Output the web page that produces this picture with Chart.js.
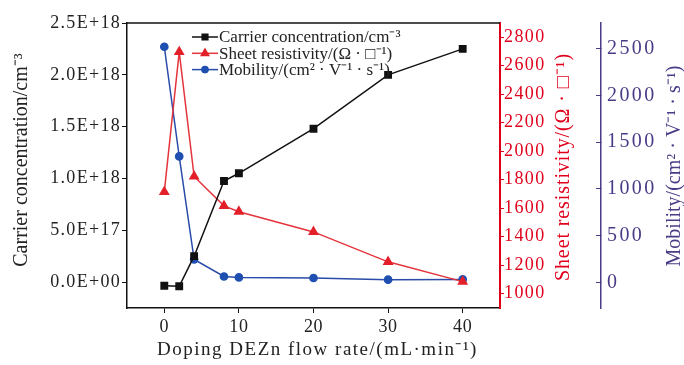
<!DOCTYPE html>
<html>
<head>
<meta charset="utf-8">
<script src="https://cdn.jsdelivr.net/npm/chart.js@4.4.1/dist/chart.umd.min.js"></script>
<style>
  html, body { margin: 0; padding: 0; background: #fff; }
  canvas { display: block; }
</style>
</head>
<body>
<canvas id="chart" width="684" height="365"></canvas>
<script>
// ── data ──
const flowRates   = [0, 2, 4, 8, 10, 20, 30, 40];
const carrierConc = [-3.5e16, -4e16, 2.5e17, 9.75e17, 1.05e18, 1.48e18, 2.0e18, 2.25e18];
const sheetRes    = [1715, 2697, 1823, 1617, 1576, 1434, 1224, 1085];
const mobility    = [2521, 1347, 244, 62, 52, 46, 28, 31];

const xTicks        = [0, 10, 20, 30, 40];
const carrierTicks  = [0, 5e17, 1e18, 1.5e18, 2e18, 2.5e18];
const carrierLabels = ['0.0E+00', '5.0E+17', '1.0E+18', '1.5E+18', '2.0E+18', '2.5E+18'];
const sheetTicks    = [1000, 1200, 1400, 1600, 1800, 2000, 2200, 2400, 2600, 2800];
const mobilityTicks = [0, 500, 1000, 1500, 2000, 2500];

const seriesLabels = ['Carrier concentration/cm⁻³', 'Sheet resistivity/(Ω · □⁻¹)', 'Mobility/(cm² · V⁻¹ · s⁻¹)'];
const xTitle = 'Doping DEZn flow rate/(mL·min⁻¹)';

const SERIF = "'Liberation Serif', 'Times New Roman', serif";
const RED = '#e0001b';
const PURPLE = '#4b3b87';
const BLUE = '#2a4ca8';

// the figure's numbers are set a bit wider than plain Times
const tickSpacing = { x: '0.6px', y: '1.3px', y1: '1.4px', y2: '2.4px' };

function pts(ys) { return flowRates.map((x, i) => ({ x, y: ys[i] })); }
function setTicks(values) { return s => { s.ticks = values.map(v => ({ value: v })); }; }
const plain = v => String(v);

function drawTitle(ctx, text, x, y, color, size, spacing, rotate) {
    ctx.save();
    ctx.translate(x, y);
    if (rotate) ctx.rotate(-Math.PI / 2);
    ctx.font = `${size}px ${SERIF}`;
    ctx.fillStyle = color;
    ctx.textAlign = 'center';
    ctx.textBaseline = 'middle';
    ctx.letterSpacing = spacing;
    ctx.fillText(text, 0, 0);
    ctx.restore();
}

const figureExtras = {
    id: 'figureExtras',
    beforeDraw(chart) {
        Object.values(chart.scales).forEach(s => {
            if (s._spaced) return;
            const orig = s.drawLabels;
            s.drawLabels = function (area) {
                this.ctx.save();
                this.ctx.letterSpacing = tickSpacing[this.id] || '0px';
                orig.call(this, area);
                this.ctx.restore();
            };
            s._spaced = true;
        });
    },
    afterDraw(chart) {
        const { ctx, chartArea: a, scales } = chart;
        // top frame line
        ctx.save();
        ctx.strokeStyle = '#111';
        ctx.lineWidth = 1.5;
        ctx.beginPath();
        ctx.moveTo(a.left, a.top);
        ctx.lineTo(a.right, a.top);
        ctx.stroke();
        ctx.restore();

        // axis titles
        drawTitle(ctx, seriesLabels[0], scales.y.left + 22, a.top + 137, '#222', 20, '0px', true);
        drawTitle(ctx, seriesLabels[1], scales.y1.left + 64, a.top + 144, RED, 20, '0.9px', true);
        drawTitle(ctx, seriesLabels[2], scales.y2.left + 74, a.top + 143, PURPLE, 20, '0px', true);
        drawTitle(ctx, xTitle, (a.left + a.right) / 2 + 4, a.bottom + 42, '#222', 19, '1.5px', false);

        // legend inside the plot, line-marker-line
        chart.data.datasets.forEach((ds, i) => {
            const y = a.top + 14 + i * 16.3;
            const x0 = a.left + 65, x1 = a.left + 91;
            ctx.save();
            ctx.strokeStyle = ds.borderColor;
            ctx.lineWidth = 1.5;
            ctx.beginPath();
            ctx.moveTo(x0, y);
            ctx.lineTo(x1, y);
            ctx.stroke();
            ctx.fillStyle = ds.pointBackgroundColor;
            ctx.strokeStyle = ds.pointBackgroundColor;
            Chart.helpers.drawPoint(ctx, { pointStyle: ds.pointStyle, radius: ds.pointRadius - 0.5, borderWidth: 1, rotation: 0 }, (x0 + x1) / 2, y);
            ctx.font = `17px ${SERIF}`;
            ctx.fillStyle = '#222';
            ctx.textAlign = 'left';
            ctx.textBaseline = 'middle';
            ctx.fillText(ds.label, x1 + 1, y + 1);
            ctx.restore();
        });
    }
};

Chart.defaults.font.family = SERIF;

new Chart(document.getElementById('chart'), {
    type: 'line',
    data: {
        datasets: [
            { label: seriesLabels[0], data: pts(carrierConc), yAxisID: 'y', borderColor: '#111', pointBackgroundColor: '#111', pointBorderColor: '#111', pointStyle: 'rect', pointRadius: 4.5, borderWidth: 1.5 },
            { label: seriesLabels[1], data: pts(sheetRes), yAxisID: 'y1', borderColor: '#e4343c', pointBackgroundColor: '#e3202a', pointBorderColor: '#e3202a', pointStyle: 'triangle', pointRadius: 4.8, borderWidth: 1.5 },
            { label: seriesLabels[2], data: pts(mobility), yAxisID: 'y2', borderColor: BLUE, pointBackgroundColor: '#1f4fb0', pointBorderColor: '#1f4fb0', pointStyle: 'circle', pointRadius: 3.6, borderWidth: 1.5 }
        ]
    },
    options: {
        responsive: false, animation: false, events: [],
        layout: { padding: { top: 16, right: 0, bottom: 0, left: 0 } },
        plugins: { legend: { display: false }, tooltip: { enabled: false } },
        scales: {
            x: {
                type: 'linear', min: -5, max: 45,
                afterBuildTicks: setTicks(xTicks),
                afterFit: s => { s.height = 57; },
                grid: { drawOnChartArea: false, color: '#111', tickLength: 5 },
                border: { color: '#111', width: 1.5 },
                ticks: { color: '#222', font: { size: 18 }, padding: 3, maxRotation: 0, callback: plain }
            },
            y: {
                position: 'left', min: -2.5e17, max: 2.5e18,
                afterBuildTicks: setTicks(carrierTicks),
                afterFit: s => { s.width = 127; },
                grid: { drawOnChartArea: false, color: '#111', tickLength: 5 },
                border: { color: '#111', width: 1.5 },
                ticks: { color: '#222', font: { size: 18 }, padding: 1, callback: (v, i) => carrierLabels[i] }
            },
            y1: {
                position: 'right', weight: 0, min: 900, max: 2900,
                afterBuildTicks: setTicks(sheetTicks),
                afterFit: s => { s.width = 101; },
                grid: { drawOnChartArea: false, color: RED, tickLength: 4 },
                border: { color: RED, width: 2 },
                ticks: { color: RED, font: { size: 18 }, padding: 0, callback: plain }
            },
            y2: {
                position: 'right', weight: 1, min: -275, max: 2775,
                afterBuildTicks: setTicks(mobilityTicks),
                afterFit: s => { s.width = 83; },
                grid: { drawOnChartArea: false, color: PURPLE, tickLength: -5 },
                border: { color: PURPLE, width: 1.5 },
                ticks: { color: PURPLE, font: { size: 20 }, padding: 11, callback: plain }
            }
        }
    },
    plugins: [figureExtras]
});
</script>
</body>
</html>
